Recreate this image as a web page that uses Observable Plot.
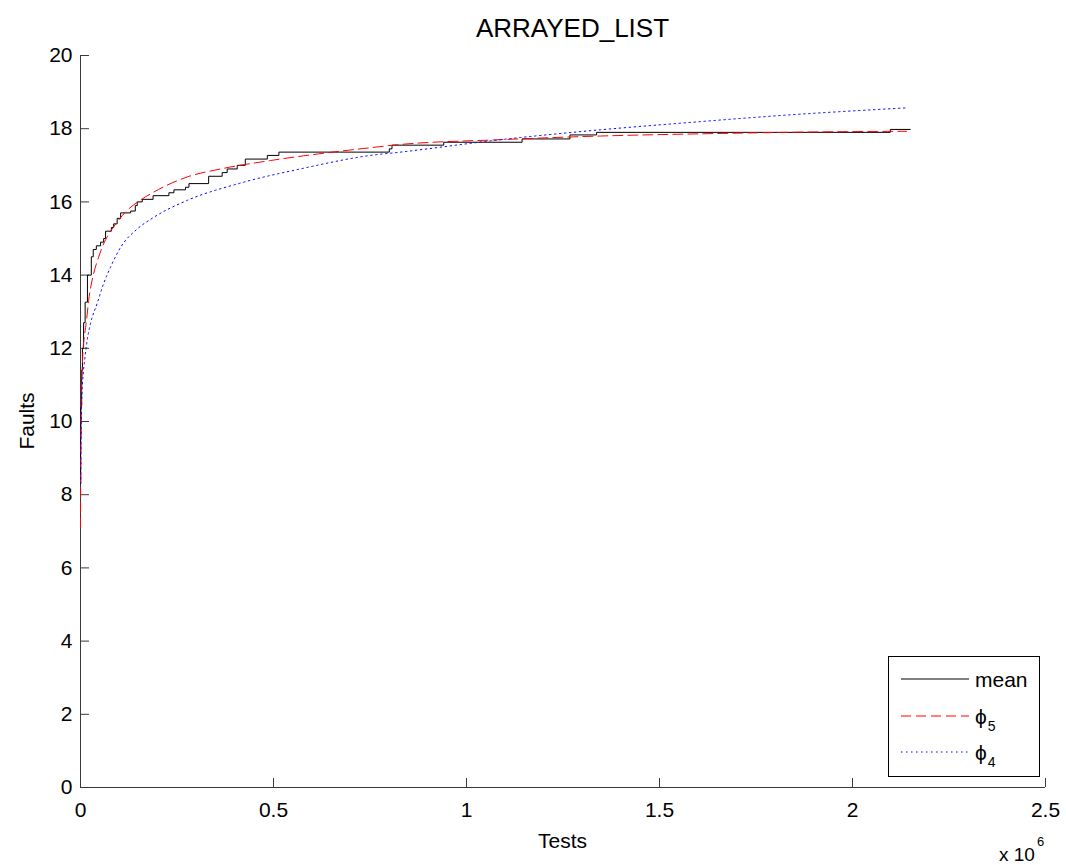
<!DOCTYPE html>
<html>
<head>
<meta charset="utf-8">
<script src="https://cdn.jsdelivr.net/npm/d3@7"></script>
<script src="https://cdn.jsdelivr.net/npm/@observablehq/plot@0.6"></script>
<style>
  body { margin: 0; background: #fff; }
  #chart { width: 1066px; height: 865px; }
  #chart svg { font-family: "Liberation Sans", Arial, Helvetica, sans-serif; }
</style>
</head>
<body>
<div id="chart"></div>
<script>
// ---- data (x in millions of tests) ----
const chartTitle = "ARRAYED_LIST";
const xTicks = [0, 0.5, 1, 1.5, 2, 2.5];
const yTicks = [0, 2, 4, 6, 8, 10, 12, 14, 16, 18, 20];

const meanX = [0, 0.0005, 0.001, 0.003, 0.005, 0.008, 0.012, 0.018, 0.028, 0.033, 0.041, 0.052, 0.060, 0.065, 0.080, 0.086, 0.095, 0.104, 0.130, 0.142, 0.147, 0.160, 0.188, 0.229, 0.242, 0.272, 0.281, 0.332, 0.367, 0.380, 0.406, 0.427, 0.484, 0.514, 0.800, 0.807, 0.941, 1.144, 1.268, 1.337, 2.098, 2.150];
const meanY = [8.3, 9.5, 10.4, 11.4, 12.0, 12.7, 13.26, 14.0, 14.5, 14.7, 14.8, 14.9, 15.0, 15.2, 15.3, 15.4, 15.55, 15.7, 15.75, 15.9, 16.0, 16.07, 16.17, 16.25, 16.33, 16.4, 16.5, 16.7, 16.8, 16.9, 17.0, 17.17, 17.27, 17.36, 17.45, 17.55, 17.63, 17.72, 17.83, 17.9, 17.98, 17.98];

const phi5X = [0, 0.0005, 0.001, 0.002, 0.004, 0.007, 0.011, 0.016, 0.021, 0.027, 0.034, 0.047, 0.056, 0.069, 0.095, 0.121, 0.147, 0.19, 0.276, 0.363, 0.492, 0.63, 0.751, 0.82, 1.088, 1.347, 1.606, 1.986, 2.14];
const phi5Y = [7.1, 8.5, 9.5, 10.5, 11.3, 12.0, 12.4, 12.8, 13.3, 13.7, 14.04, 14.49, 14.76, 15.04, 15.45, 15.77, 15.99, 16.27, 16.68, 16.9, 17.13, 17.33, 17.48, 17.56, 17.7, 17.8, 17.86, 17.92, 17.93];

const phi4X = [0, 0.0005, 0.001, 0.003, 0.007, 0.011, 0.017, 0.026, 0.043, 0.06, 0.078, 0.104, 0.147, 0.19, 0.276, 0.406, 0.578, 0.751, 0.829, 1.088, 1.347, 1.554, 1.813, 2.14];
const phi4Y = [8.3, 8.3, 9.5, 10.5, 11.3, 11.7, 12.2, 12.68, 13.22, 13.77, 14.22, 14.76, 15.26, 15.58, 16.04, 16.49, 16.92, 17.27, 17.36, 17.7, 17.97, 18.15, 18.36, 18.57];

const seriesNames = ["mean", "ϕ5", "ϕ4"];

// ---- tables ----
const toRows = (xs, ys) => xs.map((x, i) => ({x, y: ys[i]}));
const meanRows = toRows(meanX, meanY);
const phi5Rows = toRows(phi5X, phi5Y);
const phi4Rows = toRows(phi4X, phi4Y);

const W = 1066, H = 865;
const mL = 80, mR = 21, mT = 55, mB = 78;
const frameW = W - mL - mR, frameH = H - mT - mB;
const tickLen = 9;
const axisColor = "#3a3a3a";
const fs = 21;

const svg = Plot.plot({
  width: W,
  height: H,
  marginLeft: mL,
  marginRight: mR,
  marginTop: mT,
  marginBottom: mB,
  style: {fontFamily: '"Liberation Sans", Arial, Helvetica, sans-serif', background: "#fff", color: "#000"},
  x: {domain: [0, 2.5], label: null},
  y: {domain: [0, 20], label: null},
  marks: [
    Plot.axisX(xTicks, {tickSize: 0, tickPadding: 15, fontSize: fs, tickFormat: d => String(d), fill: "#000"}),
    Plot.axisY(yTicks, {tickSize: 0, tickPadding: 8, fontSize: fs, tickFormat: d => String(d), fill: "#000"}),
    Plot.tickX(xTicks, {x: d => d, insetTop: frameH - tickLen, stroke: axisColor}),
    Plot.tickY(yTicks, {y: d => d, insetRight: frameW - tickLen, stroke: axisColor}),
    Plot.ruleX([0], {stroke: axisColor}),
    Plot.ruleY([0], {stroke: axisColor}),
    Plot.line(meanRows, {x: "x", y: "y", curve: "step-after", stroke: "#000", strokeWidth: 1}),
    Plot.line(phi5Rows, {x: "x", y: "y", curve: "monotone-x", stroke: "#ff0000", strokeWidth: 1, strokeDasharray: "10,5"}),
    Plot.line(phi4Rows, {x: "x", y: "y", curve: "monotone-x", stroke: "#0000ff", strokeWidth: 1, strokeDasharray: "1.5,3.5"})
  ]
});

document.getElementById("chart").appendChild(svg);

const s = d3.select(svg);
const font = '"Liberation Sans", Arial, Helvetica, sans-serif';

// title
s.append("text").attr("x", mL + frameW / 2 + 10).attr("y", 37)
  .attr("text-anchor", "middle").attr("font-size", 26).attr("font-family", font)
  .attr("fill", "#000").text(chartTitle);

// axis labels
s.append("text").attr("x", mL + frameW / 2).attr("y", 848)
  .attr("text-anchor", "middle").attr("font-size", fs).attr("font-family", font)
  .attr("fill", "#000").text("Tests");
s.append("text").attr("transform", `translate(34, ${mT + frameH / 2}) rotate(-90)`)
  .attr("text-anchor", "middle").attr("font-size", fs).attr("font-family", font)
  .attr("fill", "#000").text("Faults");

// x 10^6 multiplier
const mult = s.append("text").attr("x", 999).attr("y", 861).attr("text-anchor", "start")
  .attr("font-size", 19).attr("font-family", font).attr("fill", "#000");
mult.append("tspan").text("x 10");
mult.append("tspan").attr("font-size", 13).attr("dy", -15).attr("dx", 2).text("6");

// legend
const lg = s.append("g");
lg.append("rect").attr("x", 888.5).attr("y", 656.5).attr("width", 151).attr("height", 120)
  .attr("fill", "#fff").attr("stroke", "#000").attr("stroke-width", 1);
const legendItems = [
  {name: seriesNames[0], stroke: "#000", dash: null, y: 679},
  {name: seriesNames[1], stroke: "#ff0000", dash: "10,5", y: 716},
  {name: seriesNames[2], stroke: "#0000ff", dash: "1.5,3.5", y: 752}
];
legendItems.forEach((it) => {
  lg.append("line").attr("x1", 901).attr("x2", 969).attr("y1", it.y).attr("y2", it.y)
    .attr("stroke", it.stroke).attr("stroke-width", 1)
    .attr("stroke-dasharray", it.dash);
  const t = lg.append("text").attr("x", 975).attr("y", it.y + 8).attr("text-anchor", "start")
    .attr("font-size", fs).attr("font-family", font).attr("fill", "#000");
  if (it.name === "mean") {
    t.text("mean");
  } else {
    t.append("tspan").text(it.name[0]);
    t.append("tspan").attr("font-size", 14).attr("dy", 7).attr("dx", 1).text(it.name.slice(1));
  }
});
</script>
</body>
</html>
